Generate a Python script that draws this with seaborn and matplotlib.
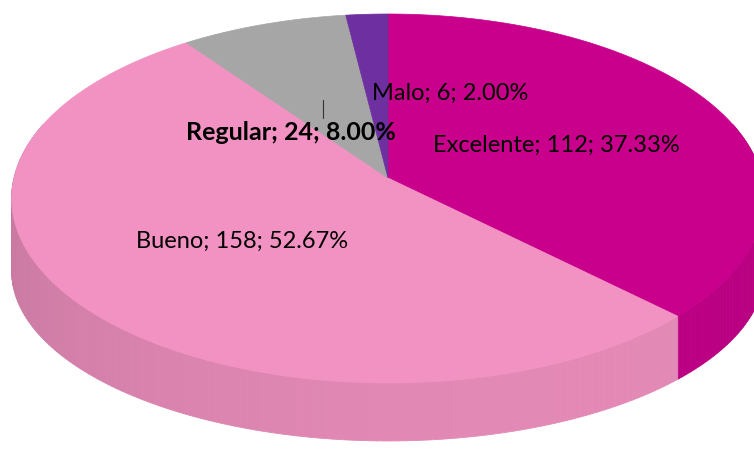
import numpy as np
import matplotlib
matplotlib.use("Agg")
import matplotlib.pyplot as plt
import matplotlib.colors as mcolors
import seaborn as sns

# Chart data
categories = ["Excelente", "Bueno", "Regular", "Malo"]
counts = [112, 158, 24, 6]
slice_colors = ["#C8008C", "#F292C2", "#A6A6A6", "#6E2FA0"]

# Projection of the tilted disk (pixel space)
CX, CY = 388, 178
SX, SY = 374, 182.2
K = 0.111
D0, D1 = 75, 17  # wall height at back / shrink towards the front


def proj(theta, r=1.0):
    x = r * np.sin(theta)
    yv = -r * np.cos(theta)
    den = 1 - K * yv
    return CX + SX * x / den, CY + SY * yv / den


def wall_height(theta):
    return D0 - D1 * (-np.cos(theta))


def shade(color, theta):
    x, yv = np.sin(theta), -np.cos(theta)
    f = 0.86 + 0.07 * yv + 0.04 * x
    rgb = np.array(mcolors.to_rgb(color)) * f
    return np.clip(rgb, 0, 1)


sns.set_style("white")
plt.rcParams["font.family"] = ["Lato", "DejaVu Sans"]

fig = plt.figure(figsize=(7.54, 4.51), dpi=100)
ax = fig.add_axes([0, 0, 1, 1])
ax.set_xlim(0, 754)
ax.set_ylim(451, 0)
ax.axis("off")

total = sum(counts)
bounds = np.concatenate([[0], np.cumsum(counts)]) / total * 2 * np.pi

# side walls
quads = []
for i, color in enumerate(slice_colors):
    a0, a1 = bounds[i], bounds[i + 1]
    n = max(int((a1 - a0) / np.radians(1.0)), 2)
    th = np.linspace(a0, a1, n + 1)
    for t1, t2 in zip(th[:-1], th[1:]):
        tm = (t1 + t2) / 2
        if -np.cos(tm) < -0.3:
            continue
        x1, y1 = proj(t1)
        x2, y2 = proj(t2)
        xs = [x1, x2, x2, x1]
        ys = [y1, y2, y2 + wall_height(t2), y1 + wall_height(t1)]
        quads.append((-np.cos(tm), xs, ys, shade(color, tm)))

for _, xs, ys, c in sorted(quads, key=lambda q: q[0]):
    ax.fill(xs, ys, color=c, lw=0.6, ec=c)

# top faces
for i, color in enumerate(slice_colors):
    th = np.linspace(bounds[i], bounds[i + 1], 200)
    px, py = proj(th)
    ax.fill(np.r_[CX, px], np.r_[CY, py], color=color, lw=0.5, ec=color)

# data labels
label_r = 0.5
offsets = {"Excelente": (0, 2, "center"), "Bueno": (1, 2, "center"),
           "Regular": (-32, 35, "center"), "Malo": (-5, 1, "left")}
for i, name in enumerate(categories):
    tm = (bounds[i] + bounds[i + 1]) / 2
    lx, ly = proj(tm, label_r)
    dx, dy, ha = offsets[name]
    pct = counts[i] / total * 100
    bold = name == "Regular"
    ax.text(lx + dx, ly + dy, f"{name}; {counts[i]}; {pct:.2f}%",
            ha=ha, va="center", fontsize=18 if bold else 17, color="black",
            fontweight="bold" if bold else "normal")
    if bold:
        ax.plot([lx, lx], [ly + 3, ly + 21], color="#333333", lw=0.8)

fig.savefig("out.png", dpi=100)
